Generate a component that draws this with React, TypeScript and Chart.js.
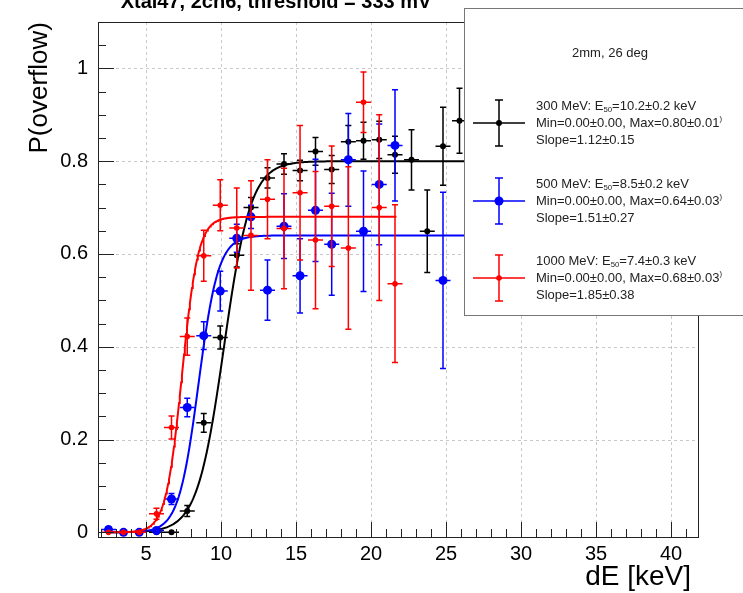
import React, { useEffect, useRef } from "react";
import { Chart, registerables } from "chart.js";

Chart.register(...registerables);

// Energy-deposit bin centres (keV), shared by the three beam energies
const binCentres = [2.5, 3.5, 4.55, 5.7, 6.7, 7.75, 8.85, 9.95, 11.05, 12.0, 13.1, 14.2, 15.27, 16.3, 17.38, 18.49, 19.5, 20.55, 21.6, 22.7, 23.75, 24.8, 25.9];
const dEHalfWidth = 0.5;

// 300 MeV
const pOverflow300 = [null, null, null, 0, 0, 0.046, 0.236, 0.42, 0.597, 0.70, 0.764, 0.794, 0.78, 0.821, 0.782, 0.842, 0.844, 0.846, 0.814, 0.803, 0.649, 0.832, 0.887];
const pErr300 = [null, null, null, 0.003, 0.003, 0.012, 0.02, 0.025, 0.025, 0.022, 0.022, 0.022, 0.022, 0.03, 0.03, 0.035, 0.04, 0.04, 0.04, 0.065, 0.089, 0.084, 0.07];
// 500 MeV
const pOverflow500 = [0.006, 0, 0, 0.004, 0.072, 0.269, 0.424, 0.52, 0.634, 0.68, 0.522, 0.66, 0.553, 0.694, 0.621, 0.803, 0.649, 0.75, 0.834, null, null, 0.543, null];
const pErr500 = [0.006, 0.004, 0.004, 0.004, 0.012, 0.02, 0.03, 0.043, 0.03, 0.025, 0.065, 0.07, 0.08, 0.11, 0.11, 0.1, 0.13, 0.13, 0.12, null, null, 0.19, null];
// 1000 MeV
const pOverflow1000 = [0, 0, 0, 0.04, 0.226, 0.422, 0.596, 0.705, 0.656, 0.64, 0.718, 0.655, 0.732, 0.63, 0.703, 0.613, 0.927, 0.70, 0.536, null, null, null, null];
const pErr1000 = [0.003, 0.003, 0.003, 0.012, 0.025, 0.04, 0.055, 0.055, 0.086, 0.118, 0.085, 0.13, 0.145, 0.148, 0.13, 0.175, 0.065, 0.2, 0.17, null, null, null, null];

const seriesLabels = ["300 MeV", "500 MeV", "1000 MeV"];
const seriesColours = ["#000000", "#0000ff", "#ff0000"];
const markerRadius = [3, 4.5, 2.8];

// Sigmoid fit results: Min + (Max - Min) / (1 + exp(-Slope * (dE - E50)))
const fitE50 = [10.2, 8.5, 7.4];
const fitE50Err = [0.2, 0.2, 0.3];
const fitMin = [0.0, 0.0, 0.0];
const fitMinErr = [0.0, 0.0, 0.0];
const fitMax = [0.8, 0.64, 0.68];
const fitMaxErr = [0.01, 0.03, 0.03];
const fitSlope = [1.12, 1.51, 1.85];
const fitSlopeErr = [0.15, 0.27, 0.38];
const fitRangeStart = [2.5, 2.5, 2.5];
const fitRangeEnd = [30, 30, 21.7];

const xTickValues = [5, 10, 15, 20, 25, 30, 35, 40];
const yTickValues = [0, 0.2, 0.4, 0.6, 0.8, 1];
const yTickLabels = ["0", "0.2", "0.4", "0.6", "0.8", "1"];

const plotTitle = "Xtal47, 2ch6, threshold = 333 mV";
const legendHeader = "2mm, 26 deg";
const xTitle = "dE [keV]";
const yTitle = "P(overflow)";

const FONT = "'Liberation Sans', Arial, Helvetica, sans-serif";
const LEGEND_FONT_SIZE = 13;

const sigmoid = (i: number, x: number) =>
  fitMin[i] + (fitMax[i] - fitMin[i]) / (1 + Math.exp(-fitSlope[i] * (x - fitE50[i])));

function fitCurve(i: number) {
  const pts: { x: number; y: number }[] = [];
  const n = 400;
  const a = fitRangeStart[i];
  const b = fitRangeEnd[i];
  for (let k = 0; k <= n; k++) {
    const x = a + ((b - a) * k) / n;
    pts.push({ x, y: sigmoid(i, x) });
  }
  return pts;
}

function pointSeries(vals: (number | null)[], errs: (number | null)[]) {
  const out: { x: number; y: number; ex: number; ey: number }[] = [];
  binCentres.forEach((x, i) => {
    const v = vals[i];
    if (v === null || v === undefined) return;
    out.push({ x, y: v, ex: dEHalfWidth, ey: errs[i] ?? 0 });
  });
  return out;
}

const pointData = [
  pointSeries(pOverflow300, pErr300),
  pointSeries(pOverflow500, pErr500),
  pointSeries(pOverflow1000, pErr1000),
];

function drawRich(ctx: CanvasRenderingContext2D, x: number, y: number, parts: { t: string; sub?: boolean; sup?: boolean }[], size: number) {
  let cx = x;
  for (const p of parts) {
    if (p.sub) {
      ctx.font = `${size * 0.6}px ${FONT}`;
      ctx.fillText(p.t, cx, y + size * 0.3);
    } else if (p.sup) {
      ctx.font = `${size * 0.6}px ${FONT}`;
      ctx.fillText(p.t, cx, y - size * 0.35);
    } else {
      ctx.font = `${size}px ${FONT}`;
      ctx.fillText(p.t, cx, y);
    }
    cx += ctx.measureText(p.t).width;
  }
}

function drawErrorCross(ctx: CanvasRenderingContext2D, px: number, py: number, x0: number, x1: number, y0: number, y1: number, cap: number) {
  ctx.beginPath();
  ctx.moveTo(x0, py);
  ctx.lineTo(x1, py);
  ctx.moveTo(px, y0);
  ctx.lineTo(px, y1);
  if (Math.abs(y1 - y0) > 3) {
    ctx.moveTo(px - cap, y0);
    ctx.lineTo(px + cap, y0);
    ctx.moveTo(px - cap, y1);
    ctx.lineTo(px + cap, y1);
  }
  ctx.stroke();
}

const rootStyle = {
  id: "rootStyle",
  beforeDatasetsDraw(chart: any) {
    const { ctx, chartArea: a, scales } = chart;
    ctx.save();
    ctx.strokeStyle = "#c8c8c8";
    ctx.lineWidth = 1;
    ctx.setLineDash([3, 3]);
    ctx.beginPath();
    for (const v of xTickValues) {
      const px = Math.round(scales.x.getPixelForValue(v)) + 0.5;
      ctx.moveTo(px, a.top);
      ctx.lineTo(px, a.bottom);
    }
    for (const v of yTickValues) {
      if (v === 0) continue;
      const py = Math.round(scales.y.getPixelForValue(v)) + 0.5;
      ctx.moveTo(a.left, py);
      ctx.lineTo(a.right, py);
    }
    ctx.stroke();
    ctx.restore();
  },
  beforeDatasetDraw(chart: any, args: any) {
    const ds = chart.data.datasets[args.index];
    if (!ds.errorBars) return;
    const { ctx, chartArea: a, scales } = chart;
    ctx.save();
    ctx.beginPath();
    ctx.rect(a.left, a.top, a.right - a.left, a.bottom - a.top);
    ctx.clip();
    ctx.strokeStyle = ds.borderColor;
    ctx.lineWidth = 1.5;
    for (const p of ds.data) {
      const px = scales.x.getPixelForValue(p.x);
      const py = scales.y.getPixelForValue(p.y);
      drawErrorCross(
        ctx,
        px,
        py,
        scales.x.getPixelForValue(p.x - p.ex),
        scales.x.getPixelForValue(p.x + p.ex),
        scales.y.getPixelForValue(p.y + p.ey),
        scales.y.getPixelForValue(p.y - p.ey),
        3
      );
    }
    ctx.restore();
  },
  afterDatasetsDraw(chart: any) {
    const { ctx, chartArea: a, scales } = chart;
    ctx.save();

    // frame
    ctx.strokeStyle = "#222";
    ctx.lineWidth = 1;
    ctx.setLineDash([]);
    ctx.strokeRect(a.left + 0.5, a.top + 0.5, a.right - a.left, a.bottom - a.top);

    // inward ticks on the bottom and left axes
    ctx.beginPath();
    for (let v = 2; v <= 41; v++) {
      const px = Math.round(scales.x.getPixelForValue(v)) + 0.5;
      const len = v % 5 === 0 ? 15 : 8;
      ctx.moveTo(px, a.bottom);
      ctx.lineTo(px, a.bottom - len);
    }
    for (let k = 0; k <= 22; k++) {
      const v = k * 0.05;
      const py = Math.round(scales.y.getPixelForValue(v)) + 0.5;
      const len = k % 4 === 0 ? 16 : 8;
      ctx.moveTo(a.left, py);
      ctx.lineTo(a.left + len, py);
    }
    ctx.stroke();

    // legend box
    const lx = 464;
    const ly = 8;
    const lw = 300;
    const lh = 307;
    ctx.fillStyle = "#fff";
    ctx.fillRect(lx, ly, lw, lh);
    ctx.strokeStyle = "#777";
    ctx.lineWidth = 1;
    ctx.strokeRect(lx + 0.5, ly + 0.5, lw, lh);

    ctx.fillStyle = "#222";
    ctx.textBaseline = "middle";
    ctx.textAlign = "center";
    ctx.font = `${LEGEND_FONT_SIZE}px ${FONT}`;
    ctx.fillText(legendHeader, 610, 53);

    const rowY = [123, 201, 278];
    ctx.textAlign = "left";
    for (let i = 0; i < 3; i++) {
      const cy = rowY[i];
      const mx = 499;
      ctx.strokeStyle = seriesColours[i];
      ctx.lineWidth = 1.5;
      drawErrorCross(ctx, mx, cy, 473, 525, cy - 23, cy + 23, 4);
      ctx.fillStyle = seriesColours[i];
      ctx.beginPath();
      ctx.arc(mx, cy, markerRadius[i], 0, Math.PI * 2);
      ctx.fill();

      ctx.fillStyle = "#222";
      drawRich(
        ctx,
        536,
        cy - 17,
        [
          { t: `${seriesLabels[i]}: E` },
          { t: "50", sub: true },
          { t: `=${fitE50[i].toFixed(1)}\u00b1${fitE50Err[i].toFixed(1)} keV` },
        ],
        LEGEND_FONT_SIZE
      );
      drawRich(
        ctx,
        536,
        cy,
        [
          { t: `Min=${fitMin[i].toFixed(2)}\u00b1${fitMinErr[i].toFixed(2)}, Max=${fitMax[i].toFixed(2)}\u00b1${fitMaxErr[i].toFixed(2)}` },
          { t: ")", sup: true },
        ],
        LEGEND_FONT_SIZE
      );
      drawRich(ctx, 536, cy + 17, [{ t: `Slope=${fitSlope[i].toFixed(2)}\u00b1${fitSlopeErr[i].toFixed(2)}` }], LEGEND_FONT_SIZE);
    }

    // title (runs off the top edge)
    ctx.fillStyle = "#000";
    ctx.textAlign = "center";
    ctx.textBaseline = "alphabetic";
    ctx.font = `bold 20px ${FONT}`;
    ctx.fillText(plotTitle, 276, 8);

    // axis titles
    ctx.font = `28px ${FONT}`;
    ctx.textAlign = "right";
    ctx.fillText(xTitle, 691, 585);
    ctx.font = `26px ${FONT}`;
    ctx.save();
    ctx.translate(47, 22);
    ctx.rotate(-Math.PI / 2);
    ctx.textAlign = "right";
    ctx.textBaseline = "alphabetic";
    ctx.fillText(yTitle, 0, 0);
    ctx.restore();

    ctx.restore();
  },
};

export default function App() {
  const ref = useRef<HTMLCanvasElement | null>(null);

  useEffect(() => {
    document.body.style.margin = "0";
    const canvas = ref.current;
    if (!canvas) return;

    const datasets: any[] = [];
    for (let i = 2; i >= 0; i--) {
      datasets.push({
        type: "scatter",
        label: seriesLabels[i],
        data: pointData[i],
        errorBars: true,
        borderColor: seriesColours[i],
        backgroundColor: seriesColours[i],
        pointRadius: markerRadius[i],
        pointBorderWidth: 0,
        pointHoverRadius: markerRadius[i],
        order: (2 - i) * 2,
      });
      datasets.push({
        type: "line",
        label: `${seriesLabels[i]} fit`,
        data: fitCurve(i),
        borderColor: seriesColours[i],
        borderWidth: 2,
        pointRadius: 0,
        fill: false,
        tension: 0,
        order: (2 - i) * 2 + 1,
      });
    }

    const chart = new Chart(canvas, {
      type: "scatter",
      data: { datasets },
      options: {
        responsive: false,
        animation: false,
        devicePixelRatio: 1,
        layout: { padding: { top: 20, right: 45, left: 0, bottom: 0 } },
        plugins: {
          legend: { display: false },
          tooltip: { enabled: false },
          title: { display: false },
        },
        scales: {
          x: {
            type: "linear",
            min: 1.8,
            max: 41.8,
            grid: { display: false, drawTicks: false },
            border: { display: false },
            afterFit: (s: any) => {
              s.height = 56;
            },
            afterBuildTicks: (s: any) => {
              s.ticks = xTickValues.map((v) => ({ value: v }));
            },
            ticks: {
              color: "#000",
              font: { family: FONT, size: 20 },
              padding: 5,
              maxRotation: 0,
              autoSkip: false,
            },
          },
          y: {
            type: "linear",
            min: -0.01,
            max: 1.1,
            grid: { display: false, drawTicks: false },
            border: { display: false },
            afterFit: (s: any) => {
              s.width = 98;
            },
            afterBuildTicks: (s: any) => {
              s.ticks = yTickValues.map((v) => ({ value: v }));
            },
            ticks: {
              color: "#000",
              font: { family: FONT, size: 20 },
              padding: 10,
              autoSkip: false,
              callback: (v: any) => {
                const k = yTickValues.findIndex((t) => Math.abs(t - Number(v)) < 1e-9);
                return k >= 0 ? yTickLabels[k] : "";
              },
            },
          },
        },
      } as any,
      plugins: [rootStyle as any],
    });

    return () => chart.destroy();
  }, []);

  return <canvas ref={ref} width={743} height={593} style={{ display: "block" }} />;
}
